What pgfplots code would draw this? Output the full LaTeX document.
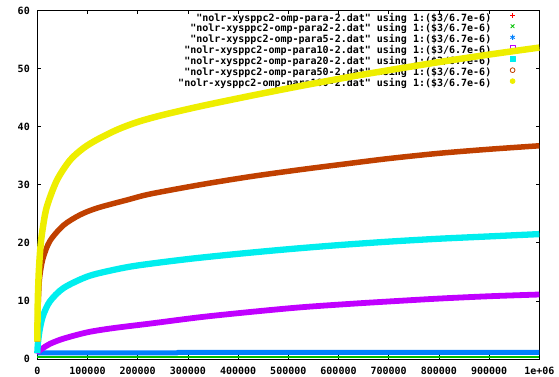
\documentclass[border=0pt]{standalone}
\usepackage{fontspec}
\usepackage{pgfplots}
\pgfplotsset{compat=1.18}
\newfontfamily\gpfont{DejaVu Sans Mono}

% gnuplot default line colours
\definecolor{gpred}{HTML}{FF0000}
\definecolor{gpgreen}{HTML}{00C000}
\definecolor{gpblue}{HTML}{0080FF}
\definecolor{gpmagenta}{HTML}{C000FF}
\definecolor{gpcyan}{HTML}{00EEEE}
\definecolor{gpbrown}{HTML}{C04000}
\definecolor{gpyellow}{HTML}{EEEE00}

\newcommand{\gpfnt}{\gpfont\bfseries\fontsize{10bp}{10.7bp}\selectfont}
% key sample: a single point marker in a 10bp wide cell
\newcommand{\gpkey}[3]{\path[draw=none, fill=none] (0,0) rectangle (10bp,0);
  \draw[#1, line width=0.8bp, mark size=#3, #2] plot coordinates {(5bp,3.5bp)};}

\begin{document}
\begin{tikzpicture}
\begin{axis}[
  set layers,
  at={(0,0)}, anchor=south west,
  scale only axis, width=502bp, height=348.6bp,
  xmin=0, xmax=1000000, ymin=0, ymax=60,
  clip=false,
  axis line style={black, line width=0.8bp},
  every tick/.style={black, line width=0.6bp},
  major tick length=3.5bp,
  tick align=inside,
  xtick={0,100000,200000,300000,400000,500000,600000,700000,800000,900000,1000000},
  xticklabels={0,100000,200000,300000,400000,500000,600000,700000,800000,900000,1e+06},
  ytick={0,10,20,30,40,50,60},
  scaled x ticks=false,
  /pgf/number format/assume math mode=true,
  tick label style={font=\gpfnt, text=black},
  xticklabel style={yshift=-4.5bp},
  yticklabel style={xshift=-4bp},
  legend cell align=right,
  legend plot pos=right,
  legend style={draw=none, fill=none, inner sep=0pt, font=\gpfnt,
    at={(axis description cs:1,1)}, anchor=north east,
    xshift=-21.5bp, yshift=-2.6bp,
    column sep=16.3bp, row sep=0pt,
    nodes={inner sep=0pt, text height=7.2bp, text depth=2.9bp}},
]

% para-2
\addplot[draw=gpred, line width=1.5bp,
  legend image code/.code={\gpkey{gpred}{mark=+}{2.6bp}}]
  coordinates {(0,0.35) (1000000,0.35)};
\addlegendentry{"nolr-xysppc2-omp-para-2.dat" using 1:(\$3/6.7e-6)}

% para2
\addplot[draw=gpgreen, line width=1.6bp,
  legend image code/.code={\gpkey{gpgreen}{mark=x}{2.6bp}}]
  coordinates {(0,0.35) (1000000,0.35)};
\addlegendentry{"nolr-xysppc2-omp-para2-2.dat" using 1:(\$3/6.7e-6)}

% para5
\addplot[draw=gpblue, line width=5bp,
  legend image code/.code={\gpkey{gpblue}{mark=asterisk}{2.6bp}}]
  coordinates {(0,1.05) (278000,1.05) (280000,1.12) (1000000,1.12)};
\addlegendentry{"nolr-xysppc2-omp-para5-2.dat" using 1:(\$3/6.7e-6)}

% para10
\addplot[draw=gpmagenta, line width=5.8bp, smooth, line join=round,
  legend image code/.code={\gpkey{gpmagenta}{mark=square}{2.4bp}}]
  coordinates {
  (0,0.9) (2000,1.3) (10000,1.8) (25000,2.6) (52000,3.5) (100000,4.6)
  (150000,5.3) (225000,6.1) (325000,7.2) (425000,8.1) (525000,8.9)
  (625000,9.5) (700000,9.9) (800000,10.4) (900000,10.8) (1000000,11.1)};
\addlegendentry{"nolr-xysppc2-omp-para10-2.dat" using 1:(\$3/6.7e-6)}

% para20
\addplot[draw=gpcyan, line width=6.3bp, smooth, line join=round,
  legend image code/.code={\gpkey{gpcyan}{mark=square*}{2.4bp}}]
  coordinates {
  (0,1) (1000,2.5) (3000,4) (6000,5.6) (12000,7.6) (25000,9.9) (52000,12.2)
  (100000,14.2) (150000,15.3) (200000,16.1) (300000,17.2) (400000,18.1)
  (500000,18.9) (600000,19.6) (700000,20.2) (800000,20.7) (900000,21.1)
  (1000000,21.5)};
\addlegendentry{"nolr-xysppc2-omp-para20-2.dat" using 1:(\$3/6.7e-6)}

% para50
\addplot[draw=gpbrown, line width=5.5bp, smooth, line join=round,
  legend image code/.code={\gpkey{gpbrown}{mark=o}{2.4bp}}]
  coordinates {
  (0,3) (300,5) (800,7) (1500,9) (2500,11) (4000,13.5) (7000,15.5)
  (12000,17.5) (25000,20.3) (52000,23.0) (85000,24.8) (120000,26.0)
  (180000,27.4) (225000,28.4) (325000,30.0) (425000,31.4) (525000,32.6)
  (625000,33.7) (700000,34.5) (800000,35.4) (900000,36.1) (1000000,36.7)};
\addlegendentry{"nolr-xysppc2-omp-para50-2.dat" using 1:(\$3/6.7e-6)}
% scattered short runs at the origin
\addplot[only marks, mark=o, mark size=2.2bp, gpbrown, line width=0.6bp, forget plot]
  coordinates {(0,3.6) (0,4.6) (0,5.6) (0,6.6) (0,7.6) (0,8.6)};

% para100, drawn above the key as gnuplot does
\addplot[draw=gpyellow, line width=6.5bp, smooth, line join=round,
  on layer=axis foreground,
  legend image code/.code={\gpkey{gpyellow}{mark=*}{2.4bp}}]
  coordinates {
  (0,3) (1000,10) (3000,15) (6000,19) (10000,22) (18700,26.1) (38700,30.7)
  (65000,34.2) (92000,36.3) (120000,37.8) (160000,39.5) (200000,40.8)
  (250000,42.0) (325000,43.5) (425000,45.3) (525000,47.0) (625000,48.6)
  (700000,49.7) (800000,51.1) (900000,52.4) (1000000,53.6)};
\addlegendentry{"nolr-xysppc2-omp-para100-2.dat" using 1:(\$3/6.7e-6)}

\end{axis}
\pgfresetboundingbox
\path[use as bounding box] (-37.3bp,-18bp) rectangle (521.7bp,359bp);
\end{tikzpicture}
\end{document}
